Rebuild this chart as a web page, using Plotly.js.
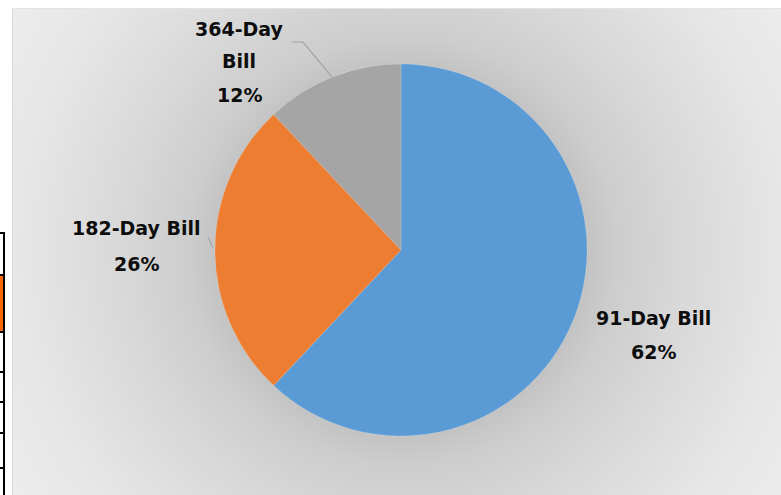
<!DOCTYPE html>
<html>
<head>
<meta charset="utf-8">
<script src="https://cdn.plot.ly/plotly-3.0.1.min.js"></script>
<style>
  html, body { margin:0; padding:0; background:#ffffff; width:781px; height:495px; overflow:hidden; }
  #bg { position:absolute; left:12px; top:8px; width:769px; height:487px;
        background: radial-gradient(circle at 389px 242px, #b9b9b9 0px, #c3c3c3 185px, #cdcdcd 215px, #d8d8d8 280px, #e6e6e6 380px, #eeeeee 480px);
        border-left:1px solid #d9d9d9; border-top:1px solid #e3e3e3; box-sizing:border-box; }
  #chart { position:absolute; left:0; top:0; width:781px; height:495px; }
  .tl { position:absolute; background:#000; }
</style>
</head>
<body>
<div id="bg"></div>
<!-- fragments of a neighbouring table at the left edge -->
<div class="tl" style="left:3px; top:232px; width:2px; height:263px;"></div>
<div class="tl" style="left:0; top:232px; width:5px; height:2px;"></div>
<div class="tl" style="left:0; top:274px; width:5px; height:2px;"></div>
<div style="position:absolute; left:0; top:276px; width:3px; height:55px; background:#ff6600;"></div>
<div class="tl" style="left:0; top:331px; width:5px; height:2px;"></div>
<div class="tl" style="left:0; top:371px; width:5px; height:2px;"></div>
<div class="tl" style="left:0; top:401px; width:5px; height:2px;"></div>
<div class="tl" style="left:0; top:432px; width:5px; height:2px;"></div>
<div class="tl" style="left:0; top:467px; width:5px; height:2px;"></div>
<div id="chart"></div>
<script>
// ---- data ----
var categories = ['91-Day Bill', '182-Day Bill', '364-Day Bill'];
var labelLines = [['91-Day Bill'], ['182-Day Bill'], ['364-Day', 'Bill']];
var shares = [62, 26, 12];
var colors = ['#5B9BD5', '#ED7D31', '#A5A5A5'];

var W = 781, H = 495;
function px(x) { return x / W; }
function py(y) { return 1 - y / H; }

var total = shares.reduce(function (a, b) { return a + b; }, 0);
var pct = shares.map(function (v) { return Math.round(v / total * 100) + '%'; });

// label anchor positions (pixel centres) for each category's lines
var labelPos = [
  { x: 653, ys: [318, 352] },
  { x: 136, ys: [228, 264] },
  { x: 239, ys: [29, 61, 95] }
];

var font = { family: 'DejaVu Sans, sans-serif', size: 19, color: '#0d0d0d', weight: 'bold' };
var annotations = [];
categories.forEach(function (c, i) {
  var lines = labelLines[i].concat([pct[i]]);
  lines.forEach(function (t, j) {
    annotations.push({
      text: '<b>' + t + '</b>', showarrow: false, xref: 'paper', yref: 'paper',
      x: px(labelPos[i].x), y: py(labelPos[i].ys[j]), xanchor: 'center', yanchor: 'middle',
      font: font
    });
  });
});

var shapes = [
  { type: 'path', xref: 'paper', yref: 'paper',
    path: 'M ' + px(292) + ',' + py(42) + ' L ' + px(303) + ',' + py(42) + ' L ' + px(332) + ',' + py(77),
    line: { color: '#a6a6a6', width: 1.2 } },
  { type: 'path', xref: 'paper', yref: 'paper',
    path: 'M ' + px(208) + ',' + py(237) + ' L ' + px(213) + ',' + py(248),
    line: { color: '#a6a6a6', width: 1.2 } }
];

var cx = 401, cy = 250, r = 186;
var trace = {
  type: 'pie',
  labels: categories,
  values: shares,
  sort: false,
  direction: 'clockwise',
  rotation: 0,
  textinfo: 'none',
  hoverinfo: 'skip',
  marker: { colors: colors, line: { color: 'rgba(255,255,255,0.3)', width: 0.5 } },
  domain: { x: [px(cx - r), px(cx + r)], y: [py(cy + r), py(cy - r)] },
  showlegend: false
};

var layout = {
  width: W, height: H,
  margin: { l: 0, r: 0, t: 0, b: 0 },
  paper_bgcolor: 'rgba(0,0,0,0)',
  plot_bgcolor: 'rgba(0,0,0,0)',
  showlegend: false,
  annotations: annotations,
  shapes: shapes
};

Plotly.newPlot('chart', [trace], layout, { displayModeBar: false, staticPlot: true });
</script>
</body>
</html>
